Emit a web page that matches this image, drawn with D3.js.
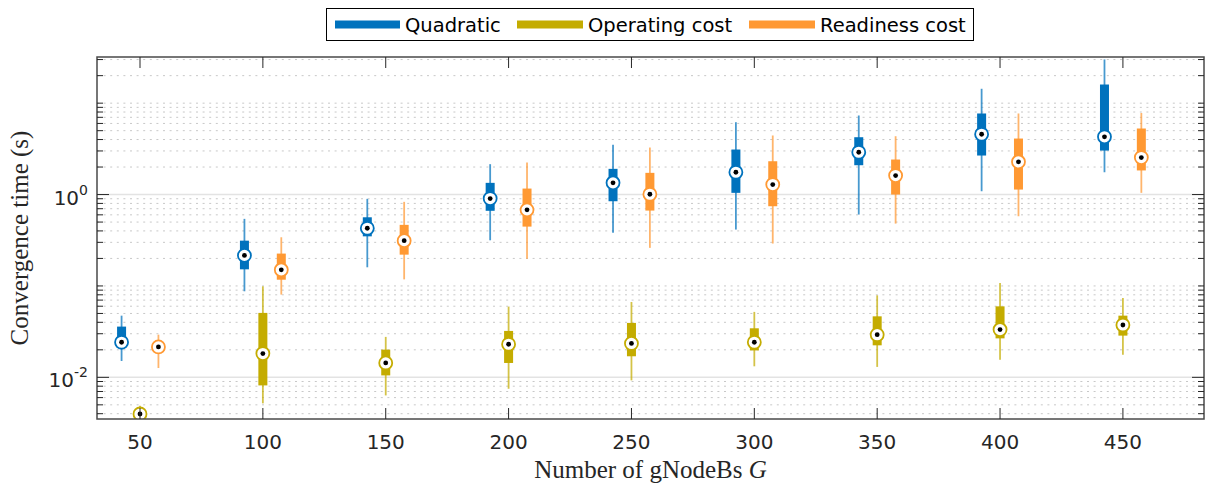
<!DOCTYPE html>
<html>
<head>
<meta charset="utf-8">
<script src="https://cdn.jsdelivr.net/npm/d3@7"></script>
<style>
  html, body { margin: 0; padding: 0; background: #fff; }
  svg { display: block; }
  .tick-label { font-family: "DejaVu Sans", sans-serif; font-size: 20px; fill: #262626; }
  .axis-title { font-family: "Liberation Serif", "DejaVu Serif", serif; font-size: 25px; fill: #262626; }
  .legend-text { font-family: "DejaVu Sans", sans-serif; font-size: 19.5px; fill: #000; }
</style>
</head>
<body>
<svg id="chart" width="1207" height="488"></svg>
<script>
// Number of gNodeBs on the x axis
const categories = [50, 100, 150, 200, 250, 300, 350, 400, 450];
const seriesNames = ["Quadratic", "Operating cost", "Readiness cost"];
const seriesColors = ["#0072BD", "#C4AC00", "#FF9933"];
const seriesOffsets = [-7.5, 0, 7.5];

// Convergence time statistics per G: [whisker low, q1, median, q3, whisker high]
const quadratic = [
  [0.0151, 0.0217, 0.0242, 0.0359, 0.0473],
  [0.0874, 0.152, 0.216, 0.313, 0.542],
  [0.160, 0.349, 0.428, 0.564, 0.897],
  [0.316, 0.664, 0.904, 1.343, 2.15],
  [0.381, 0.845, 1.343, 1.911, 3.50],
  [0.414, 1.044, 1.754, 3.11, 6.19],
  [0.604, 2.094, 2.905, 4.24, 7.33],
  [1.087, 2.673, 4.57, 7.71, 14.37],
  [1.754, 3.03, 4.285, 16.0, 30.1]
];
const operatingCost = [
  [0.0030, 0.0037, 0.00397, 0.0043, 0.0049],
  [0.00519, 0.00816, 0.0182, 0.0507, 0.099],
  [0.00634, 0.0105, 0.01436, 0.0201, 0.0277],
  [0.0075, 0.01436, 0.0230, 0.0322, 0.0594],
  [0.00926, 0.0170, 0.0235, 0.0394, 0.0668],
  [0.0132, 0.0197, 0.0242, 0.0344, 0.0520],
  [0.0130, 0.0224, 0.0293, 0.0465, 0.0789],
  [0.0156, 0.0267, 0.0333, 0.0598, 0.108],
  [0.0177, 0.0286, 0.0374, 0.0473, 0.0739]
];
const readinessCost = [
  [0.01265, 0.0200, 0.0215, 0.0235, 0.0293],
  [0.0804, 0.117, 0.150, 0.226, 0.341],
  [0.118, 0.220, 0.313, 0.466, 0.832],
  [0.199, 0.446, 0.680, 1.163, 2.24],
  [0.261, 0.668, 1.008, 1.728, 3.27],
  [0.291, 0.745, 1.286, 2.315, 4.43],
  [0.481, 1.0, 1.614, 2.417, 4.35],
  [0.579, 1.134, 2.28, 4.10, 7.71],
  [1.044, 1.836, 2.54, 5.28, 7.80]
];
const seriesData = [quadratic, operatingCost, readinessCost];

const yMajorTicks = [0.01, 1];
const yMajorLabels = [["10", "-2"], ["10", "0"]];

const svg = d3.select("#chart");
const plot = { left: 97, right: 1204, top: 57, bottom: 419 };

const x = d3.scaleLinear().domain([32.5, 483]).range([plot.left, plot.right]);
const y = d3.scaleLog().domain([0.0035, 32]).range([plot.bottom, plot.top]);

// Minor log positions (2..9 x 10^k plus the odd decades)
const minorVals = [];
for (let e = -3; e <= 1; e++) {
  for (let m = 1; m <= 9; m++) {
    const v = m * Math.pow(10, e);
    if (v < y.domain()[0] || v > y.domain()[1]) continue;
    if (yMajorTicks.some(t => Math.abs(t - v) / v < 1e-9)) continue;
    minorVals.push(v);
  }
}

const clipId = "plot-clip";
svg.append("defs").append("clipPath").attr("id", clipId)
  .append("rect").attr("x", plot.left).attr("y", plot.top)
  .attr("width", plot.right - plot.left).attr("height", plot.bottom - plot.top);

// Grid
const grid = svg.append("g");
grid.selectAll("line.minor").data(minorVals).join("line")
  .attr("x1", plot.left).attr("x2", plot.right)
  .attr("y1", d => y(d)).attr("y2", d => y(d))
  .attr("stroke", "#c8c8c8").attr("stroke-width", 1)
  .attr("stroke-dasharray", "2,4.6");
grid.selectAll("line.major").data(yMajorTicks).join("line")
  .attr("x1", plot.left).attr("x2", plot.right)
  .attr("y1", d => y(d)).attr("y2", d => y(d))
  .attr("stroke", "#e3e3e3").attr("stroke-width", 1.5);

// Box plots
const marks = svg.append("g").attr("clip-path", `url(#${clipId})`);
seriesData.forEach((data, si) => {
  const color = seriesColors[si];
  const g = marks.append("g");
  data.forEach((s, ci) => {
    const cx = x(categories[ci] + seriesOffsets[si]);
    const [wLo, q1, med, q3, wHi] = s;
    g.append("line")
      .attr("x1", cx).attr("x2", cx)
      .attr("y1", y(wLo)).attr("y2", y(wHi))
      .attr("stroke", color).attr("stroke-opacity", 0.72).attr("stroke-width", 1.8);
    g.append("rect")
      .attr("x", cx - 4.5).attr("width", 9)
      .attr("y", y(q3)).attr("height", y(q1) - y(q3))
      .attr("fill", color);
    g.append("circle")
      .attr("cx", cx).attr("cy", y(med)).attr("r", 6.5)
      .attr("fill", "#fff").attr("stroke", color).attr("stroke-width", 1.8);
    g.append("circle")
      .attr("cx", cx).attr("cy", y(med)).attr("r", 2.4)
      .attr("fill", "#000");
  });
});

// Frame
const axisColor = "#262626";
svg.append("rect")
  .attr("x", plot.left).attr("y", plot.top)
  .attr("width", plot.right - plot.left).attr("height", plot.bottom - plot.top)
  .attr("fill", "none").attr("stroke", "#4a4a4a").attr("stroke-width", 1.5);

// X ticks (bottom and top)
const xt = svg.append("g");
categories.forEach(c => {
  const px = x(c);
  xt.append("line").attr("x1", px).attr("x2", px)
    .attr("y1", plot.bottom).attr("y2", plot.bottom - 11)
    .attr("stroke", axisColor).attr("stroke-width", 1);
  xt.append("line").attr("x1", px).attr("x2", px)
    .attr("y1", plot.top).attr("y2", plot.top + 11)
    .attr("stroke", axisColor).attr("stroke-width", 1);
  xt.append("text").attr("class", "tick-label")
    .attr("x", px).attr("y", 449).attr("text-anchor", "middle")
    .text(c);
});

// Y ticks (left and right)
const yt = svg.append("g");
minorVals.forEach(v => {
  const py = y(v);
  yt.append("line").attr("x1", plot.left).attr("x2", plot.left + 6)
    .attr("y1", py).attr("y2", py).attr("stroke", axisColor).attr("stroke-width", 1);
  yt.append("line").attr("x1", plot.right).attr("x2", plot.right - 6)
    .attr("y1", py).attr("y2", py).attr("stroke", axisColor).attr("stroke-width", 1);
});
yMajorTicks.forEach((v, i) => {
  const py = y(v);
  yt.append("line").attr("x1", plot.left).attr("x2", plot.left + 12)
    .attr("y1", py).attr("y2", py).attr("stroke", axisColor).attr("stroke-width", 1);
  yt.append("line").attr("x1", plot.right).attr("x2", plot.right - 12)
    .attr("y1", py).attr("y2", py).attr("stroke", axisColor).attr("stroke-width", 1);
  const t = yt.append("text").attr("class", "tick-label")
    .attr("x", 88).attr("y", py + 10).attr("text-anchor", "end");
  t.append("tspan").text(yMajorLabels[i][0]);
  t.append("tspan").attr("dy", -10).attr("font-size", 14).text(yMajorLabels[i][1]);
});

// Axis titles
svg.append("text").attr("class", "axis-title")
  .attr("transform", `translate(28,${(plot.top + plot.bottom) / 2}) rotate(-90)`)
  .attr("text-anchor", "middle")
  .text("Convergence time (s)");
const xl = svg.append("text").attr("class", "axis-title")
  .attr("x", (plot.left + plot.right) / 2).attr("y", 478)
  .attr("text-anchor", "middle");
xl.append("tspan").text("Number of gNodeBs ");
xl.append("tspan").attr("font-style", "italic").text("G");

// Legend
const legend = svg.append("g");
legend.append("rect")
  .attr("x", 326.5).attr("y", 8.5).attr("width", 647).attr("height", 32)
  .attr("fill", "#fff").attr("stroke", "#000").attr("stroke-width", 1);
const legendItems = [
  { x0: 335, x1: 400, tx: 405 },
  { x0: 517, x1: 583, tx: 588 },
  { x0: 749, x1: 815, tx: 820 }
];
legendItems.forEach((it, i) => {
  legend.append("line").attr("x1", it.x0).attr("x2", it.x1)
    .attr("y1", 24.5).attr("y2", 24.5)
    .attr("stroke", seriesColors[i]).attr("stroke-width", 8);
  legend.append("text").attr("class", "legend-text")
    .attr("x", it.tx).attr("y", 31.5).text(seriesNames[i]);
});
</script>
</body>
</html>
